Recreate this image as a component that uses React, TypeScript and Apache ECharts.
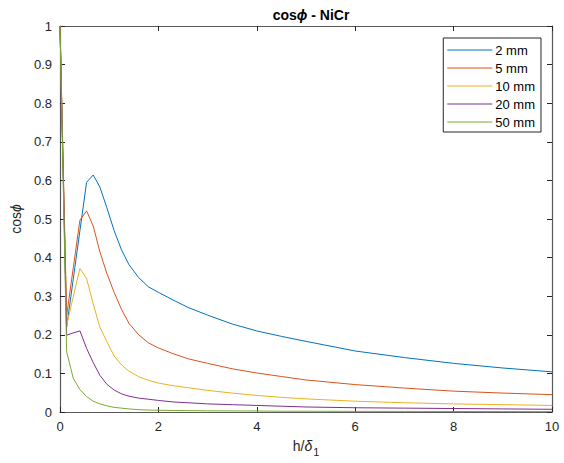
import React, { useEffect, useRef } from "react";
import * as echarts from "echarts";

const xs = [0, 0.135, 0.27, 0.405, 0.54, 0.675, 0.81, 0.95, 1.1, 1.25, 1.4, 1.6, 1.8, 2.0, 2.3, 2.6, 3.0, 3.5, 4.0, 4.5, 5.0, 6.0, 7.0, 8.0, 9.0, 10.0];
const s2mm = [1, 0.22, 0.345, 0.47, 0.595, 0.614, 0.583, 0.53, 0.47, 0.42, 0.382, 0.348, 0.324, 0.31, 0.29, 0.271, 0.251, 0.228, 0.21, 0.196, 0.183, 0.158, 0.141, 0.126, 0.114, 0.104];
const s5mm = [1, 0.25, 0.374, 0.497, 0.521, 0.482, 0.415, 0.36, 0.31, 0.266, 0.23, 0.2, 0.179, 0.166, 0.151, 0.138, 0.126, 0.112, 0.101, 0.092, 0.083, 0.071, 0.062, 0.054, 0.049, 0.045];
const s10mm = [1, 0.225, 0.299, 0.372, 0.346, 0.28, 0.22, 0.183, 0.145, 0.122, 0.106, 0.091, 0.082, 0.075, 0.068, 0.063, 0.056, 0.049, 0.043, 0.038, 0.034, 0.028, 0.024, 0.021, 0.019, 0.017];
const s20mm = [1, 0.199, 0.205, 0.21, 0.165, 0.128, 0.095, 0.072, 0.057, 0.047, 0.041, 0.036, 0.033, 0.03, 0.026, 0.024, 0.021, 0.019, 0.017, 0.015, 0.013, 0.011, 0.01, 0.009, 0.008, 0.007];
const s50mm = [1, 0.156, 0.087, 0.058, 0.04, 0.028, 0.021, 0.016, 0.012, 0.01, 0.008, 0.006, 0.005, 0.0045, 0.004, 0.0035, 0.003, 0.0028, 0.0025, 0.002, 0.002, 0.0017, 0.0015, 0.0013, 0.0012, 0.001];
const seriesNames = ["2 mm", "5 mm", "10 mm", "20 mm", "50 mm"];
const seriesValues = [s2mm, s5mm, s10mm, s20mm, s50mm];
const colors = ["#0072BD", "#D95319", "#EDB120", "#7E2F8E", "#77AC30"];

const FONT = "'Liberation Sans', Arial, Helvetica, sans-serif";
const TXT = "#262626";
const AX = "#595959";

export default function App() {
  const ref = useRef<HTMLDivElement>(null);
  useEffect(() => {
    if (!ref.current) return;
    const chart = echarts.init(ref.current, undefined, { renderer: "svg" });
    const tickStyle = { inside: true, length: 5, lineStyle: { color: TXT, width: 1 } };
    chart.setOption({
      animation: false,
      backgroundColor: "#fff",
      textStyle: { fontFamily: FONT },
      title: {
        text: "{b|cos}{i|ϕ}{b| - NiCr}",
        left: 306,
        top: 3,
        textAlign: "center",
        textStyle: {
          rich: {
            b: { fontFamily: FONT, fontSize: 14, fontWeight: "bold", color: "#000" },
            i: { fontFamily: FONT, fontSize: 14, fontWeight: "bold", fontStyle: "italic", color: "#000" },
          },
        },
      },
      legend: {
        orient: "vertical",
        right: 23,
        top: 38,
        icon: "rect",
        itemWidth: 45,
        itemHeight: 1.2,
        itemGap: 4,
        padding: [5, 6, 3, 4],
        borderColor: "#262626",
        borderWidth: 1,
        backgroundColor: "#fff",
        textStyle: { fontFamily: FONT, fontSize: 13, color: "#000", lineHeight: 14, padding: [0, 0, 0, -2] },
        data: seriesNames,
      },
      grid: { left: 60, right: 12, top: 26, bottom: 51, containLabel: false },
      xAxis: [
        {
          type: "value",
          min: 0,
          max: 10,
          interval: 2,
          splitLine: { show: false },
          axisLine: { lineStyle: { color: AX, width: 1.2 } },
          axisTick: tickStyle,
          axisLabel: { color: TXT, fontSize: 13, fontFamily: FONT, margin: 8 },
          name: "{a|h/}{d|δ}{s|1}",
          nameLocation: "middle",
          nameGap: 23,
          nameTextStyle: {
            rich: {
              a: { fontFamily: FONT, fontSize: 14, color: TXT },
              d: { fontFamily: FONT, fontSize: 14, fontStyle: "italic", color: TXT },
              s: { fontFamily: FONT, fontSize: 11, color: TXT, padding: [11, 0, 0, 1] },
            },
          },
        },
        {
          type: "value",
          position: "top",
          min: 0,
          max: 10,
          interval: 2,
          splitLine: { show: false },
          axisLine: { show: true, onZero: false, lineStyle: { color: AX, width: 1.2 } },
          axisTick: tickStyle,
          axisLabel: { show: false },
        },
      ],
      yAxis: [
        {
          type: "value",
          min: 0,
          max: 1,
          interval: 0.1,
          splitLine: { show: false },
          axisLine: { show: true, lineStyle: { color: AX, width: 1.2 } },
          axisTick: tickStyle,
          axisLabel: { color: TXT, fontSize: 13, fontFamily: FONT, margin: 8 },
          name: "{a|cos}{i|ϕ}",
          nameLocation: "middle",
          nameGap: 34,
          nameTextStyle: {
            rich: {
              a: { fontFamily: FONT, fontSize: 14, color: TXT },
              i: { fontFamily: FONT, fontSize: 14, fontStyle: "italic", color: TXT },
            },
          },
        },
        {
          type: "value",
          position: "right",
          min: 0,
          max: 1,
          interval: 0.1,
          splitLine: { show: false },
          axisLine: { show: true, onZero: false, lineStyle: { color: AX, width: 1.2 } },
          axisTick: tickStyle,
          axisLabel: { show: false },
        },
      ],
      series: seriesNames.map((name, k) => ({
        name,
        type: "line",
        xAxisIndex: 0,
        yAxisIndex: 0,
        showSymbol: false,
        symbol: "none",
        smooth: false,
        color: colors[k],
        lineStyle: { width: 1, color: colors[k] },
        data: xs.map((x, i) => [x, seriesValues[k][i]]),
      })),
    });
    return () => chart.dispose();
  }, []);
  return (
    <div
      ref={ref}
      style={{ position: "fixed", left: 0, top: 0, width: 564, height: 463, background: "#fff" }}
    />
  );
}
